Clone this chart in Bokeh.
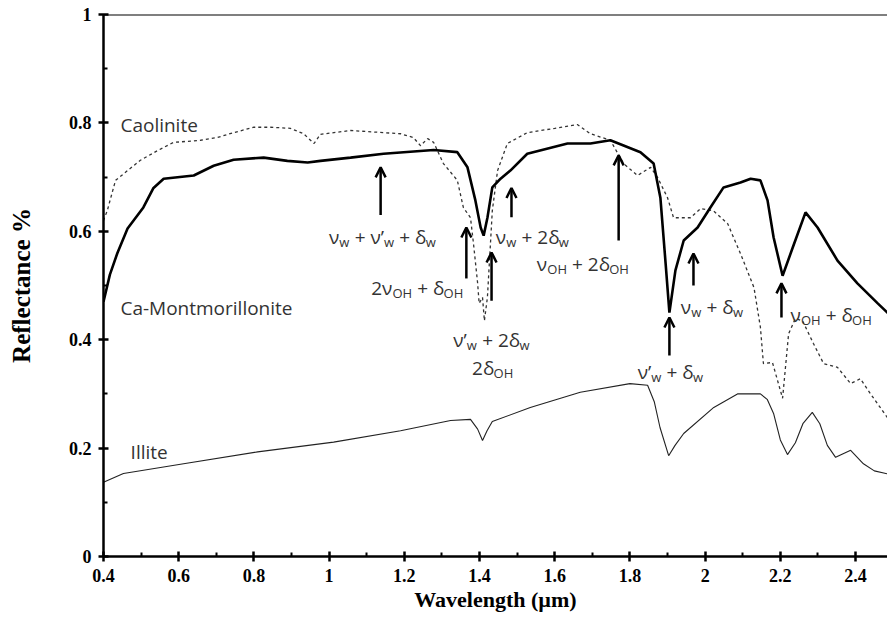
from bokeh.plotting import figure
from bokeh.models import (ColumnDataSource, FixedTicker, CustomJSTickFormatter, Span,
                          Arrow, OpenHead, Range1d)
from bokeh.core.properties import value
from bokeh.embed import file_html
from bokeh.resources import INLINE

# ---------------- data ----------------
kaol_x = [0.400, 0.410, 0.432, 0.464, 0.498, 0.544, 0.586, 0.623, 0.658, 0.703, 0.746, 0.800, 0.844,
          0.897, 0.932, 0.960, 0.977, 1.057, 1.190, 1.224, 1.243, 1.262, 1.278, 1.304, 1.341, 1.357,
          1.376, 1.384, 1.395, 1.399, 1.408, 1.413, 1.421, 1.434, 1.448, 1.474, 1.527, 1.600, 1.660,
          1.695, 1.748, 1.783, 1.820, 1.855, 1.873, 1.900, 1.916, 1.961, 1.988, 2.022, 2.060, 2.094,
          2.130, 2.147, 2.155, 2.179, 2.206, 2.222, 2.240, 2.259, 2.288, 2.315, 2.352, 2.387, 2.413,
          2.440, 2.485, 2.500]
kaol_y = [0.620, 0.638, 0.694, 0.712, 0.731, 0.749, 0.764, 0.766, 0.768, 0.773, 0.782, 0.792, 0.792,
          0.790, 0.780, 0.762, 0.779, 0.786, 0.780, 0.773, 0.758, 0.771, 0.764, 0.725, 0.694, 0.644,
          0.625, 0.577, 0.504, 0.467, 0.478, 0.435, 0.478, 0.638, 0.712, 0.762, 0.782, 0.790, 0.797,
          0.780, 0.768, 0.725, 0.703, 0.718, 0.700, 0.662, 0.625, 0.625, 0.642, 0.638, 0.614, 0.559,
          0.496, 0.423, 0.356, 0.358, 0.292, 0.411, 0.439, 0.435, 0.393, 0.356, 0.349, 0.319, 0.328,
          0.300, 0.256, 0.250]

mont_x = [0.400, 0.417, 0.437, 0.464, 0.506, 0.533, 0.560, 0.640, 0.693, 0.746, 0.826, 0.889, 0.943,
          0.977, 1.057, 1.145, 1.278, 1.341, 1.368, 1.389, 1.403, 1.411, 1.421, 1.434, 1.456, 1.482,
          1.527, 1.634, 1.695, 1.748, 1.828, 1.863, 1.881, 1.895, 1.905, 1.921, 1.943, 1.980, 2.014,
          2.049, 2.094, 2.121, 2.147, 2.166, 2.182, 2.206, 2.233, 2.267, 2.299, 2.352, 2.405, 2.459,
          2.500]
mont_y = [0.470, 0.520, 0.560, 0.605, 0.644, 0.680, 0.697, 0.703, 0.721, 0.732, 0.736, 0.730, 0.727,
          0.730, 0.736, 0.743, 0.750, 0.746, 0.718, 0.657, 0.607, 0.592, 0.625, 0.681, 0.697, 0.712,
          0.743, 0.762, 0.762, 0.768, 0.746, 0.725, 0.662, 0.540, 0.450, 0.528, 0.583, 0.607, 0.644,
          0.681, 0.690, 0.697, 0.694, 0.657, 0.589, 0.518, 0.570, 0.635, 0.607, 0.546, 0.504, 0.467,
          0.440]

illite_x = [0.400, 0.453, 0.613, 0.810, 1.012, 1.190, 1.323, 1.376, 1.395, 1.408, 1.420, 1.434, 1.535,
            1.668, 1.800, 1.847, 1.865, 1.880, 1.903, 1.920, 1.943, 2.023, 2.086, 2.147, 2.165, 2.182,
            2.200, 2.219, 2.240, 2.260, 2.285, 2.305, 2.325, 2.347, 2.387, 2.421, 2.450, 2.500]
illite_y = [0.137, 0.153, 0.171, 0.193, 0.211, 0.232, 0.251, 0.253, 0.235, 0.214, 0.232, 0.249, 0.275,
            0.303, 0.319, 0.316, 0.285, 0.238, 0.186, 0.205, 0.227, 0.275, 0.300, 0.300, 0.290, 0.264,
            0.215, 0.188, 0.210, 0.245, 0.266, 0.245, 0.205, 0.183, 0.196, 0.171, 0.158, 0.150]

x_major = [0.4, 0.6, 0.8, 1.0, 1.2, 1.4, 1.6, 1.8, 2.0, 2.2, 2.4]
x_minor = [0.5, 0.7, 0.9, 1.1, 1.3, 1.5, 1.7, 1.9, 2.1, 2.3]
y_major = [0.0, 0.2, 0.4, 0.6, 0.8, 1.0]
y_minor = [0.1, 0.3, 0.5, 0.7, 0.9]

# series names and their label anchors
series_names = ["Caolinite", "Ca-Montmorillonite", "Illite"]
name_x = [0.445, 0.445, 0.472]
name_y = [0.797, 0.458, 0.192]

# band annotations: segments (text, is_subscript), anchor x, anchor y (baseline), alignment
band_labels = [
    ([("ν", 0), ("w", 1), (" + ν’", 0), ("w", 1), (" + δ", 0), ("w", 1)], 1.142, 0.589, "center"),
    ([("ν", 0), ("w", 1), (" + 2δ", 0), ("w", 1)], 1.443, 0.589, "left"),
    ([("2ν", 0), ("OH", 1), (" + δ", 0), ("OH", 1)], 1.357, 0.496, "right"),
    ([("ν’", 0), ("w", 1), (" + 2δ", 0), ("w", 1)], 1.432, 0.399, "center"),
    ([("2δ", 0), ("OH", 1)], 1.435, 0.347, "center"),
    ([("ν", 0), ("OH", 1), (" + 2δ", 0), ("OH", 1)], 1.675, 0.540, "center"),
    ([("ν", 0), ("w", 1), (" + δ", 0), ("w", 1)], 1.935, 0.460, "left"),
    ([("ν’", 0), ("w", 1), (" + δ", 0), ("w", 1)], 1.908, 0.340, "center"),
    ([("ν", 0), ("OH", 1), (" + δ", 0), ("OH", 1)], 2.227, 0.445, "left"),
]
# arrows: x, y tail, y head
arrow_x = [1.137, 1.485, 1.365, 1.432, 1.770, 1.969, 1.905, 2.203]
arrow_y0 = [0.630, 0.626, 0.513, 0.472, 0.583, 0.500, 0.371, 0.441]
arrow_y1 = [0.718, 0.680, 0.607, 0.561, 0.740, 0.559, 0.441, 0.504]

# ---------------- figure ----------------
p = figure(width=887, height=617, output_backend="svg", toolbar_location=None,
           x_range=Range1d(0.4, 2.485), y_range=Range1d(0, 1),
           min_border_left=103, min_border_right=0, min_border_top=14, min_border_bottom=61,
           background_fill_color="white", border_fill_color="white")
p.outline_line_color = None
p.grid.visible = False

p.line(kaol_x, kaol_y, line_color="#333333", line_width=1.3, line_dash="3 3")
p.line(mont_x, mont_y, line_color="black", line_width=2.6)
p.line(illite_x, illite_y, line_color="#222222", line_width=1.1)

p.add_layout(Span(location=1.0, dimension="width", line_color="black", line_width=2))

fmt = CustomJSTickFormatter(code="return String(Math.round(tick*10)/10);")
for ax, maj, mnr in ((p.xaxis[0], x_major, x_minor), (p.yaxis[0], y_major, y_minor)):
    ax.ticker = FixedTicker(ticks=maj, minor_ticks=mnr)
    ax.formatter = fmt
    ax.axis_line_width = 2.5
    ax.axis_line_color = "black"
    ax.major_tick_line_width = 2.5
    ax.major_tick_in = 5
    ax.major_tick_out = 5
    ax.minor_tick_line_width = 2
    ax.minor_tick_in = 4
    ax.minor_tick_out = 0
    ax.major_label_text_font = "Liberation Serif"
    ax.major_label_text_font_style = "bold"
    ax.major_label_text_font_size = "18px"
    ax.major_label_text_color = "black"
    ax.axis_label_text_font = "Liberation Serif"
    ax.axis_label_text_font_style = "bold"
    ax.axis_label_text_color = "black"
    ax.major_label_standoff = 7

p.xaxis.axis_label = "Wavelength (µm)"
p.yaxis.axis_label = "Reflectance %"
p.xaxis.axis_label_text_font_size = "22px"
p.yaxis.axis_label_text_font_size = "25px"
p.xaxis.axis_label_standoff = 2
p.yaxis.axis_label_standoff = 31

LABEL_FONT = "Open Sans"
MAIN, SUB = 19, 13
p.text(name_x, name_y, text=series_names, text_font=value(LABEL_FONT), text_font_size=f"{MAIN}px",
       text_color="#333333", text_baseline="alphabetic", text_align="left")

# composed labels with subscripts (spaces become offsets, since SVG collapses edge spaces)
W = {"ν": 0.55, "w": 0.80, "+": 0.57, " ": 0.26, "δ": 0.56, "2": 0.57, "O": 0.78, "H": 0.74, "’": 0.16}

def seg_width(t, sub):
    return sum(W.get(c, 0.56) for c in t) * (SUB if sub else MAIN)

main = dict(x=[], y=[], t=[], xo=[])
subs = dict(x=[], y=[], t=[], xo=[])
for segs, ax_, ay_, align in band_labels:
    total = sum(seg_width(t, s) for t, s in segs)
    cur = {"left": 0.0, "center": -total / 2.0, "right": -total}[align]
    for t, s in segs:
        lead = len(t) - len(t.lstrip(" "))
        d = subs if s else main
        d["x"].append(ax_); d["y"].append(ay_); d["t"].append(t.strip(" "))
        d["xo"].append(cur + seg_width(t[:lead], s))
        cur += seg_width(t, s)

p.text("x", "y", text="t", x_offset="xo", source=ColumnDataSource(main),
       text_font=value(LABEL_FONT), text_font_size=f"{MAIN}px", text_color="#333333",
       text_baseline="alphabetic", text_align="left")
p.text("x", "y", text="t", x_offset="xo", y_offset=5, source=ColumnDataSource(subs),
       text_font=value(LABEL_FONT), text_font_size=f"{SUB}px", text_color="#333333",
       text_baseline="alphabetic", text_align="left")

for xa, y0, y1 in zip(arrow_x, arrow_y0, arrow_y1):
    p.add_layout(Arrow(x_start=xa, y_start=y0, x_end=xa, y_end=y1, line_width=2.5, line_color="black",
                       end=OpenHead(size=10, line_width=2.5, line_color="black")))

open("out.html", "w").write(file_html(p, INLINE))
